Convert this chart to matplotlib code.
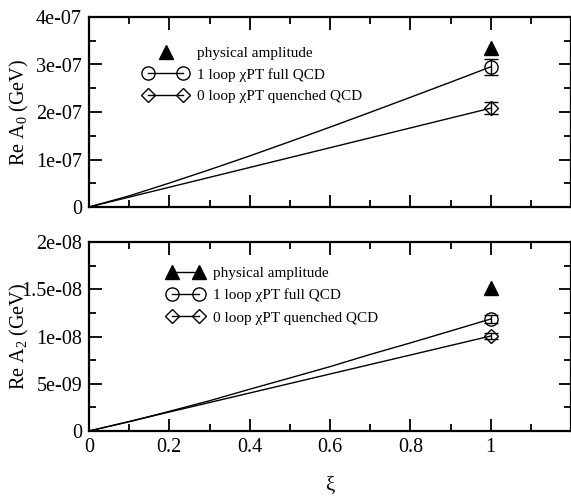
import matplotlib
matplotlib.use("Agg")
import matplotlib.pyplot as plt
from matplotlib.lines import Line2D
from matplotlib.legend_handler import HandlerLine2D
from matplotlib.ticker import MultipleLocator, FixedLocator, FixedFormatter

plt.rcParams['font.family'] = ['Liberation Serif', 'DejaVu Serif']
plt.rcParams['mathtext.fontset'] = 'custom'
plt.rcParams['mathtext.rm'] = 'Liberation Serif'
plt.rcParams['mathtext.it'] = 'Liberation Serif:italic'

# ---------------- data ----------------
xi_curve = [0.0, 0.1, 0.2, 0.3, 0.4, 0.5, 0.6, 0.7, 0.8, 0.9, 1.0]
# Re A0 curves (GeV)
a0_full_curve = [0.0, 0.234e-7, 0.504e-7, 0.785e-7, 1.075e-7, 1.376e-7,
                 1.681e-7, 1.993e-7, 2.309e-7, 2.627e-7, 2.95e-7]
a0_quen_curve = [0.0, 0.208e-7, 0.416e-7, 0.624e-7, 0.832e-7, 1.04e-7,
                 1.248e-7, 1.456e-7, 1.664e-7, 1.872e-7, 2.08e-7]
# Re A2 curves (GeV)
a2_full_curve = [0.0, 0.098e-8, 0.208e-8, 0.320e-8, 0.442e-8, 0.561e-8,
                 0.681e-8, 0.810e-8, 0.932e-8, 1.058e-8, 1.185e-8]
a2_quen_curve = [0.0, 0.1005e-8, 0.201e-8, 0.3015e-8, 0.402e-8, 0.5025e-8,
                 0.603e-8, 0.7035e-8, 0.804e-8, 0.9045e-8, 1.005e-8]

xi_point = [1.0]
a0_phys = [3.35e-7]
a0_full = [2.95e-7]; a0_full_err = [0.17e-7]
a0_quen = [2.08e-7]; a0_quen_err = [0.13e-7]
a2_phys = [1.51e-8]
a2_full = [1.185e-8]; a2_full_err = [0.04e-8]
a2_quen = [1.005e-8]; a2_quen_err = [0.035e-8]

xticks = [0, 0.2, 0.4, 0.6, 0.8, 1]
xticklabels = ['0', '0.2', '0.4', '0.6', '0.8', '1']
a0_yticks = [0, 1e-7, 2e-7, 3e-7, 4e-7]
a0_yticklabels = ['0', '1e-07', '2e-07', '3e-07', '4e-07']
a2_yticks = [0, 5e-9, 1e-8, 1.5e-8, 2e-8]
a2_yticklabels = ['0', '5e-09', '1e-08', '1.5e-08', '2e-08']

labels = ['physical amplitude', '1 loop χPT full QCD', '0 loop χPT quenched QCD']

# ---------------- figure ----------------
W, H = 571, 498
fig = plt.figure(figsize=(W / 100, H / 100), dpi=100)
L = 89 / W
Wd = (571 - 89) / W
ax1 = fig.add_axes([L, 1 - 207 / H, Wd, (207 - 17) / H])
ax2 = fig.add_axes([L, 1 - 431 / H, Wd, (431 - 242) / H])

ms = 9.5
mew = 1.0
lw = 1.0

def style(ax, yticks, yticklabels, yminor, showx):
    ax.set_xlim(0, 1.2)
    ax.set_ylim(yticks[0], yticks[-1])
    ax.xaxis.set_major_locator(FixedLocator(xticks))
    ax.xaxis.set_minor_locator(MultipleLocator(0.1))
    ax.yaxis.set_major_locator(FixedLocator(yticks))
    ax.yaxis.set_major_formatter(FixedFormatter(yticklabels))
    ax.yaxis.set_minor_locator(MultipleLocator(yminor))
    if showx:
        ax.xaxis.set_major_formatter(FixedFormatter(xticklabels))
    else:
        ax.set_xticklabels([])
    ax.tick_params(which='both', direction='in', top=True, right=True,
                   labelsize=14.5, width=1.3, pad=5)
    ax.tick_params(which='major', length=9)
    ax.tick_params(which='minor', length=5)
    for s in ax.spines.values():
        s.set_linewidth(1.6)

def panel(ax, full_c, quen_c, phys, full, ferr, quen, qerr):
    ax.plot(xi_curve, full_c, color='black', lw=lw)
    ax.plot(xi_curve, quen_c, color='black', lw=lw)
    ax.plot(xi_point, phys, linestyle='none', marker='^', color='black',
            markersize=ms + 1, clip_on=False)
    ax.errorbar(xi_point, full, yerr=ferr, fmt='o', mfc='none', mec='black',
                ecolor='black', markersize=ms, mew=mew, elinewidth=1.0,
                capsize=5, capthick=1.0)
    ax.errorbar(xi_point, quen, yerr=qerr, fmt='D', mfc='none', mec='black',
                ecolor='black', markersize=ms * 0.8, mew=mew, elinewidth=1.0,
                capsize=5, capthick=1.0)

panel(ax1, a0_full_curve, a0_quen_curve, a0_phys, a0_full, a0_full_err,
      a0_quen, a0_quen_err)
panel(ax2, a2_full_curve, a2_quen_curve, a2_phys, a2_full, a2_full_err,
      a2_quen, a2_quen_err)

style(ax1, a0_yticks, a0_yticklabels, 0.5e-7, False)
style(ax2, a2_yticks, a2_yticklabels, 2.5e-9, True)

ax1.set_ylabel('Re A$_0$ (GeV)', fontsize=14.5)
ax2.set_ylabel('Re A$_2$ (GeV)', fontsize=14.5)
ax1.yaxis.set_label_coords(-0.12, 0.5)
ax2.yaxis.set_label_coords(-0.12, 0.5)
ax2.set_xlabel('ξ', fontsize=15, labelpad=14)

def legend(ax, phys_line, anchor, hl, ls):
    h_phys = Line2D([], [], color='black', lw=lw if phys_line else 0,
                    linestyle='-' if phys_line else 'none',
                    marker='^', markersize=ms + 1)
    h_full = Line2D([], [], color='black', lw=lw, marker='o', mfc='none',
                    markersize=ms, mew=mew)
    h_quen = Line2D([], [], color='black', lw=lw, marker='D', mfc='none',
                    markersize=ms * 0.8, mew=mew)
    hmap = {} if phys_line else {h_phys: HandlerLine2D(numpoints=1)}
    ax.legend([h_phys, h_full, h_quen], labels, loc='upper left',
              bbox_to_anchor=anchor, frameon=False, fontsize=11,
              numpoints=2, handlelength=hl, handletextpad=0.6,
              labelspacing=ls, borderpad=0, borderaxespad=0,
              handler_map=hmap)

legend(ax1, False, (0.113, 0.845), 2.9, 0.5)
legend(ax2, True, (0.163, 0.87), 2.36, 0.55)

fig.savefig('out.png', dpi=100)
